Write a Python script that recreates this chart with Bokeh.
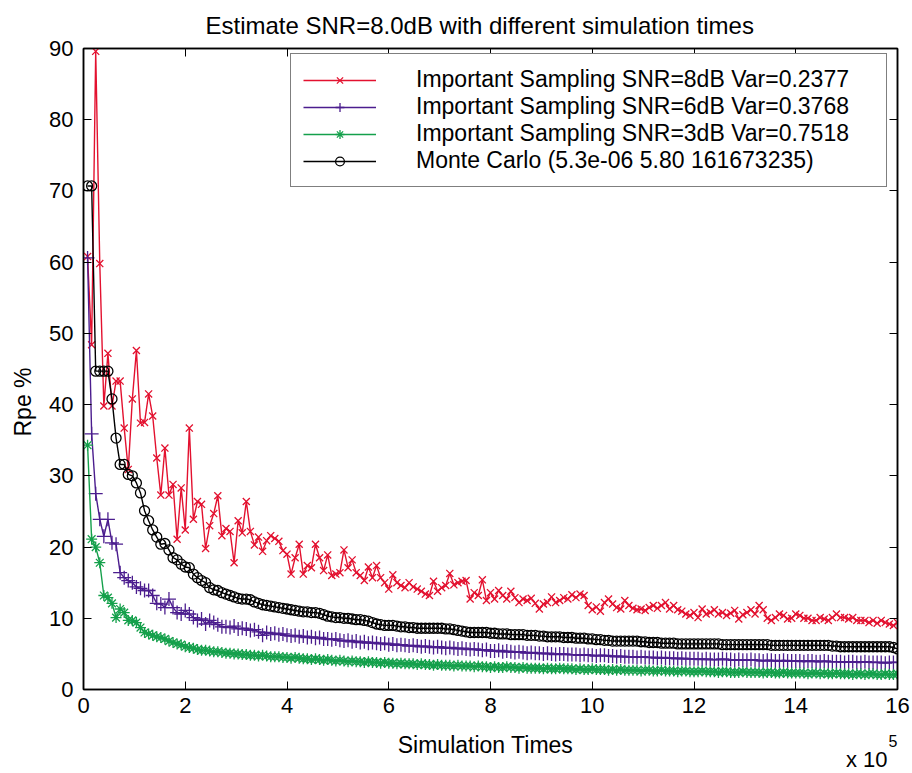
from bokeh.plotting import figure
from bokeh.models import (Range1d, FixedTicker, LinearAxis, Legend, LegendItem, Label)
from bokeh.embed import file_html
from bokeh.resources import INLINE

# Simulation times (x 10^5): 200 runs, step 8000
sim_times = [round(0.08 * (i + 1), 2) for i in range(200)]

is_8db = [
    60.8, 48.4, 89.6, 59.8, 39.8, 47.2, 39.8, 43.3, 43.3, 36.7,
    30.9, 40.8, 47.6, 37.4, 37.5, 41.5, 38.4, 32.5, 27.3, 33.9,
    27.3, 28.8, 21.1, 28.3, 22.4, 36.7, 23.9, 26.4, 26.0, 19.8,
    23.0, 24.7, 27.2, 21.6, 22.6, 22.2, 17.8, 23.7, 22.0, 26.4,
    22.2, 20.3, 21.4, 19.4, 20.9, 21.6, 21.2, 20.8, 19.5, 19.0,
    16.2, 18.5, 20.4, 16.2, 17.4, 17.1, 20.4, 18.5, 16.7, 18.9,
    16.0, 16.2, 16.4, 19.6, 17.1, 18.2, 16.4, 16.0, 15.3, 17.2,
    15.7, 17.4, 15.7, 15.0, 14.1, 16.1, 15.0, 14.6, 14.3, 15.0,
    14.4, 14.1, 13.8, 13.4, 13.2, 15.2, 13.8, 14.3, 14.6, 16.3,
    14.7, 15.0, 15.2, 15.3, 12.7, 13.6, 13.2, 15.4, 12.5, 13.6,
    12.7, 13.9, 13.2, 12.7, 13.8, 12.9, 12.2, 12.7, 12.5, 12.8,
    12.1, 11.3, 12.0, 12.2, 13.0, 12.2, 12.5, 12.9, 12.7, 13.3,
    12.9, 13.4, 13.2, 11.8, 11.2, 11.6, 11.0, 12.2, 12.7, 12.0,
    11.5, 11.3, 12.5, 11.8, 11.4, 11.2, 11.3, 11.1, 11.5, 11.8,
    11.4, 11.8, 12.2, 11.3, 11.8, 11.2, 11.0, 10.6, 10.4, 10.8,
    10.1, 11.3, 10.6, 10.8, 11.2, 10.6, 10.8, 10.4, 10.7, 11.1,
    9.9, 10.5, 10.8, 11.2, 10.6, 11.8, 11.2, 10.0, 9.7, 10.1,
    10.6, 10.4, 9.9, 10.0, 10.6, 10.4, 10.0, 10.0, 9.7, 9.7,
    10.1, 9.9, 9.7, 10.1, 10.6, 10.1, 10.1, 9.9, 10.1, 9.7,
    9.7, 9.7, 9.4, 9.7, 9.3, 9.7, 9.4, 9.2, 9.0, 9.4,
]

is_6db = [
    60.6, 35.9, 27.5, 23.9, 21.5, 23.9, 20.6, 20.4, 16.4, 15.7,
    15.3, 15.0, 14.4, 14.2, 13.9, 13.9, 13.2, 12.1, 12.0, 11.5,
    12.7, 11.5, 10.8, 10.6, 11.1, 10.6, 10.1, 9.7, 9.9, 9.2,
    9.7, 9.4, 9.1, 8.8, 8.8, 8.7, 8.9, 8.5, 8.6, 8.5,
    8.3, 8.4, 8.1, 7.6, 8.0, 7.8, 7.9, 7.7, 7.8, 7.6,
    7.5, 7.6, 7.4, 7.5, 7.3, 7.4, 7.2, 7.3, 7.1, 7.1,
    7.0, 7.1, 6.9, 6.8, 6.9, 6.7, 6.8, 6.6, 6.7, 6.5,
    6.6, 6.5, 6.4, 6.5, 6.3, 6.4, 6.2, 6.3, 6.2, 6.1,
    6.2, 6.1, 6.0, 6.1, 6.0, 5.9, 6.0, 5.9, 5.8, 5.9,
    5.8, 5.7, 5.8, 5.7, 5.6, 5.7, 5.6, 5.5, 5.6, 5.4,
    5.4, 5.5, 5.3, 5.4, 5.3, 5.2, 5.3, 5.2, 5.1, 5.2,
    5.1, 5.1, 5.0, 5.1, 5.0, 4.9, 5.0, 5.0, 4.9, 4.9,
    4.9, 4.8, 4.9, 4.8, 4.8, 4.7, 4.8, 4.8, 4.7, 4.7,
    4.6, 4.7, 4.6, 4.6, 4.6, 4.5, 4.6, 4.5, 4.5, 4.5,
    4.4, 4.5, 4.4, 4.4, 4.4, 4.3, 4.4, 4.3, 4.3, 4.3,
    4.3, 4.2, 4.3, 4.2, 4.2, 4.2, 4.3, 4.2, 4.2, 4.1,
    4.2, 4.1, 4.1, 4.2, 4.1, 4.1, 4.0, 4.1, 4.1, 4.0,
    4.0, 4.1, 4.0, 4.0, 4.0, 4.0, 3.9, 4.0, 4.0, 3.9,
    3.9, 4.0, 3.9, 3.9, 3.9, 3.9, 3.8, 3.9, 3.9, 3.8,
    3.8, 3.9, 3.8, 3.8, 3.8, 3.8, 3.7, 3.8, 3.8, 3.8,
]

is_3db = [
    34.3, 21.1, 20.0, 17.8, 13.2, 12.9, 12.1, 10.1, 11.3, 10.8,
    9.7, 9.7, 9.4, 8.7, 8.0, 7.8, 7.6, 7.4, 7.3, 7.1,
    6.8, 6.6, 6.4, 6.3, 6.0, 5.9, 5.8, 5.6, 5.5, 5.5,
    5.4, 5.3, 5.3, 5.2, 5.1, 5.1, 5.0, 5.0, 4.9, 4.9,
    4.8, 4.8, 4.7, 4.8, 4.7, 4.6, 4.6, 4.6, 4.5, 4.5,
    4.4, 4.5, 4.4, 4.3, 4.3, 4.2, 4.3, 4.2, 4.1, 4.2,
    4.1, 4.0, 4.1, 4.0, 3.9, 4.0, 3.9, 3.9, 3.8, 3.9,
    3.8, 3.8, 3.7, 3.8, 3.7, 3.7, 3.6, 3.7, 3.6, 3.6,
    3.6, 3.5, 3.6, 3.5, 3.5, 3.4, 3.5, 3.4, 3.4, 3.4,
    3.3, 3.4, 3.3, 3.3, 3.3, 3.2, 3.3, 3.2, 3.2, 3.1,
    3.2, 3.1, 3.1, 3.2, 3.1, 3.1, 3.0, 3.1, 3.0, 3.0,
    3.0, 3.0, 2.9, 3.0, 2.9, 2.9, 3.0, 2.9, 2.9, 2.9,
    2.8, 2.9, 2.8, 2.8, 2.9, 2.8, 2.8, 2.8, 2.7, 2.8,
    2.7, 2.8, 2.7, 2.7, 2.7, 2.7, 2.6, 2.7, 2.7, 2.6,
    2.6, 2.7, 2.6, 2.6, 2.6, 2.5, 2.6, 2.6, 2.5, 2.5,
    2.5, 2.6, 2.5, 2.5, 2.5, 2.4, 2.5, 2.5, 2.4, 2.4,
    2.4, 2.5, 2.4, 2.4, 2.4, 2.4, 2.3, 2.4, 2.4, 2.3,
    2.3, 2.4, 2.3, 2.3, 2.3, 2.3, 2.3, 2.2, 2.3, 2.3,
    2.2, 2.3, 2.2, 2.2, 2.3, 2.2, 2.2, 2.2, 2.1, 2.2,
    2.2, 2.1, 2.2, 2.2, 2.1, 2.1, 2.2, 2.1, 2.1, 2.2,
]

monte_carlo = [
    70.7, 70.7, 44.7, 44.7, 44.7, 44.7, 40.8, 35.3, 31.6, 31.6,
    30.2, 30.0, 29.0, 27.6, 25.1, 23.7, 22.4, 21.4, 20.4, 20.5,
    19.6, 18.5, 18.2, 17.6, 17.2, 17.1, 16.2, 15.7, 15.3, 15.0,
    14.3, 14.0, 13.9, 13.6, 13.4, 13.2, 13.0, 12.8, 12.7, 12.7,
    12.6, 12.3, 12.1, 11.9, 11.8, 11.7, 11.6, 11.5, 11.4, 11.3,
    11.2, 11.1, 11.0, 10.9, 10.9, 10.8, 10.8, 10.7, 10.5, 10.3,
    10.2, 10.1, 10.1, 10.0, 10.0, 9.9, 9.8, 9.8, 9.7, 9.6,
    9.4, 9.2, 9.1, 9.0, 9.0, 9.0, 8.9, 8.8, 8.8, 8.7,
    8.7, 8.6, 8.6, 8.6, 8.6, 8.6, 8.6, 8.6, 8.5, 8.5,
    8.4, 8.3, 8.2, 8.1, 8.0, 8.0, 8.0, 8.0, 8.0, 7.9,
    7.9, 7.8, 7.8, 7.8, 7.7, 7.7, 7.7, 7.7, 7.6, 7.6,
    7.6, 7.5, 7.5, 7.4, 7.4, 7.4, 7.4, 7.3, 7.3, 7.3,
    7.2, 7.2, 7.2, 7.1, 7.1, 7.0, 7.0, 6.9, 6.9, 6.8,
    6.8, 6.8, 6.8, 6.8, 6.8, 6.8, 6.7, 6.7, 6.6, 6.6,
    6.6, 6.5, 6.5, 6.5, 6.5, 6.4, 6.4, 6.4, 6.4, 6.4,
    6.4, 6.4, 6.4, 6.4, 6.4, 6.4, 6.3, 6.3, 6.3, 6.3,
    6.3, 6.3, 6.3, 6.3, 6.3, 6.3, 6.3, 6.3, 6.2, 6.2,
    6.2, 6.2, 6.2, 6.2, 6.2, 6.2, 6.2, 6.2, 6.2, 6.2,
    6.2, 6.2, 6.2, 6.1, 6.1, 6.0, 6.0, 6.0, 6.0, 6.0,
    6.0, 6.0, 6.0, 6.0, 6.0, 6.0, 6.0, 6.0, 5.9, 5.7,
]

x_ticks = [0, 2, 4, 6, 8, 10, 12, 14, 16]
y_ticks = [0, 10, 20, 30, 40, 50, 60, 70, 80, 90]

labels = [
    "Important Sampling SNR=8dB Var=0.2377",
    "Important Sampling SNR=6dB Var=0.3768",
    "Important Sampling SNR=3dB Var=0.7518",
    "Monte Carlo (5.3e-06 5.80 161673235)",
]

FONT = "Liberation Sans"
RED, PURPLE, GREEN, BLACK = "#e3112f", "#4b1d8e", "#14a04b", "#000000"

p = figure(width=912, height=773, output_backend="svg", toolbar_location=None,
           x_range=Range1d(0, 16), y_range=Range1d(0, 90),
           min_border_left=83, min_border_right=15, min_border_top=45,
           min_border_bottom=84, x_axis_location=None, y_axis_location=None)
p.grid.visible = False
p.outline_line_color = BLACK
p.outline_line_width = 1.5
p.background_fill_color = "white"
p.border_fill_color = "white"

p.title.text = "Estimate SNR=8.0dB with different simulation times"
p.title.align = "left"
p.title.offset = 122
p.title.text_font = FONT
p.title.text_font_size = "24px"
p.title.text_font_style = "normal"
p.title.text_color = BLACK
p.title.standoff = 19


def make_axis(ticks, show_labels):
    ax = LinearAxis(ticker=FixedTicker(ticks=ticks))
    ax.major_tick_in = 8
    ax.major_tick_out = 0
    ax.minor_tick_in = 0
    ax.minor_tick_out = 0
    ax.axis_line_width = 1.5
    ax.axis_line_color = BLACK
    ax.major_tick_line_color = BLACK
    ax.major_tick_line_width = 1
    ax.major_label_text_font = FONT
    ax.major_label_text_color = BLACK
    if show_labels:
        ax.major_label_text_font_size = "22px"
    else:
        ax.major_label_text_font_size = "0px"
        ax.major_label_standoff = 0
    return ax


bottom = make_axis(x_ticks, True)
bottom.major_label_standoff = 8
left = make_axis(y_ticks, True)
left.major_label_standoff = 10
top = make_axis(x_ticks, False)
right = make_axis(y_ticks, False)
p.add_layout(bottom, "below")
p.add_layout(left, "left")
p.add_layout(top, "above")
p.add_layout(right, "right")

series = [
    (is_8db, RED, "x", 10),
    (is_6db, PURPLE, "cross", 14),
    (is_3db, GREEN, "asterisk", 11),
    (monte_carlo, BLACK, "circle", 10),
]
items = []
for (vals, color, marker, size), lab in zip(series, labels):
    ln = p.line(sim_times, vals, line_color=color, line_width=1.4)
    sc = p.scatter(sim_times, vals, marker=marker, size=size,
                   line_color=color, fill_color=None, line_width=1.3)
    items.append(LegendItem(label=lab, renderers=[ln, sc]))

legend = Legend(items=items, location=(207, 502))
legend.label_text_font = FONT
legend.label_text_font_size = "23px"
legend.label_text_color = BLACK
legend.label_standoff = 40
legend.label_width = 458
legend.label_height = 22
legend.glyph_width = 73
legend.glyph_height = 22
legend.spacing = 0
legend.padding = 12
legend.margin = 0
legend.border_line_color = BLACK
legend.border_line_width = 1.5
legend.background_fill_color = "white"
legend.background_fill_alpha = 1.0
p.add_layout(legend, "center")

# Texts outside the frame (placed in side panels so that they are not clipped)
p.add_layout(Label(x=8, y=0, text="Simulation Times", text_align="center",
                   text_baseline="middle", x_offset=-5, y_offset=-55,
                   text_font=FONT, text_font_size="23px", text_color=BLACK), "below")
p.add_layout(Label(x=16, y=0, text="x 10", text_align="right",
                   text_baseline="middle", x_offset=-10, y_offset=-70,
                   text_font=FONT, text_font_size="22px", text_color=BLACK), "below")
p.add_layout(Label(x=16, y=0, text="5", text_align="right",
                   text_baseline="middle", x_offset=0, y_offset=-51,
                   text_font=FONT, text_font_size="16px", text_color=BLACK), "left")
p.add_layout(Label(x=0, y=45, text="Rpe %", angle=90, angle_units="deg",
                   text_align="center", text_baseline="middle",
                   x_offset=-61, y_offset=-33,
                   text_font=FONT, text_font_size="23px", text_color=BLACK), "left")

open("out.html", "w").write(file_html(p, INLINE))
